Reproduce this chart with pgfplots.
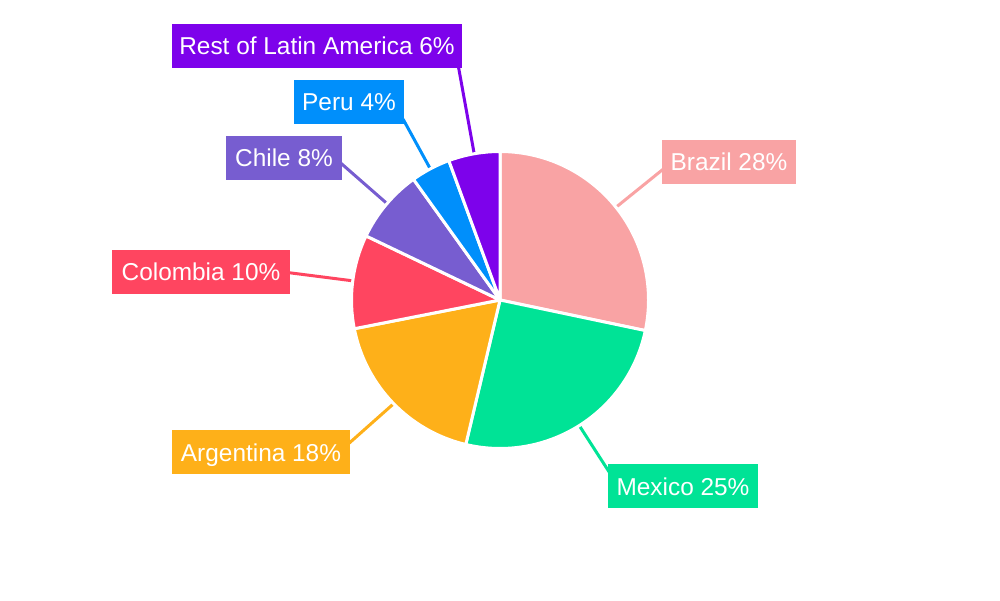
\documentclass[border=0pt]{standalone}
\usepackage{pgfplots}
\pgfplotsset{compat=1.18}
\usepackage{fontspec}
\setmainfont{Liberation Sans}
\definecolor{cBrazil}{HTML}{F9A3A4}
\definecolor{cMexico}{HTML}{00E396}
\definecolor{cArgentina}{HTML}{FEB019}
\definecolor{cColombia}{HTML}{FF4560}
\definecolor{cChile}{HTML}{775DD0}
\definecolor{cPeru}{HTML}{008FFB}
\definecolor{cRest}{HTML}{7D02EB}
% \slice{cumulative share before}{share}{colour}
\newcommand{\slice}[3]{%
  \fill[#3,draw=white,line width=3pt,line join=round]
    (axis cs:500,300) -- ++({90-3.6*#1}:148.5pt)
    arc[start angle={90-3.6*#1}, delta angle={-3.6*#2}, radius=148.5pt] -- cycle;}
\newcommand{\lbl}[5]{% x y width colour text
  \node[fill=#4,text=white,minimum width=#3pt,minimum height=44pt,inner sep=0pt,
        text height=18pt,text depth=0pt,
        font=\fontsize{24.4}{29}\selectfont] at (axis cs:#1,#2) {#5};}
\begin{document}
\begin{tikzpicture}
\useasboundingbox (0,0) rectangle (1000pt,600pt);
\begin{axis}[at={(0,0)},anchor=south west,scale only axis,
  width=1000pt,height=600pt,xmin=0,xmax=1000,ymin=0,ymax=600,
  enlargelimits=false,hide axis,clip=false]
% connectors
\draw[cBrazil,line width=3pt] (axis cs:616.7,393.3) -- (axis cs:663,430.7);
\draw[cMexico,line width=3pt] (axis cs:580,173.3) -- (axis cs:610,126.7);
\draw[cArgentina,line width=3pt] (axis cs:393.3,196) -- (axis cs:349,156.7);
\draw[cColombia,line width=3pt] (axis cs:351.7,319.3) -- (axis cs:289,327.3);
\draw[cChile,line width=3pt] (axis cs:386.7,396.7) -- (axis cs:341,436.7);
\draw[cPeru,line width=3pt] (axis cs:430,431.7) -- (axis cs:403,481);
\draw[cRest,line width=3pt] (axis cs:474,447.3) -- (axis cs:458.3,534);
% slices: shares in percent
\slice{0}{28.3}{cBrazil}
\slice{28.3}{25.4}{cMexico}
\slice{53.7}{18.2}{cArgentina}
\slice{71.9}{10.2}{cColombia}
\slice{82.1}{8.0}{cChile}
\slice{90.1}{4.3}{cPeru}
\slice{94.4}{5.6}{cRest}
% labels
\lbl{317}{554}{290}{cRest}{Rest of Latin America 6\%}
\lbl{349}{498}{110}{cPeru}{Peru 4\%}
\lbl{284}{442}{116}{cChile}{Chile 8\%}
\lbl{201}{328}{178}{cColombia}{Colombia 10\%}
\lbl{261}{148}{178}{cArgentina}{Argentina 18\%}
\lbl{683}{114}{150}{cMexico}{Mexico 25\%}
\lbl{729}{438}{134}{cBrazil}{Brazil 28\%}
\end{axis}
\end{tikzpicture}
\end{document}
